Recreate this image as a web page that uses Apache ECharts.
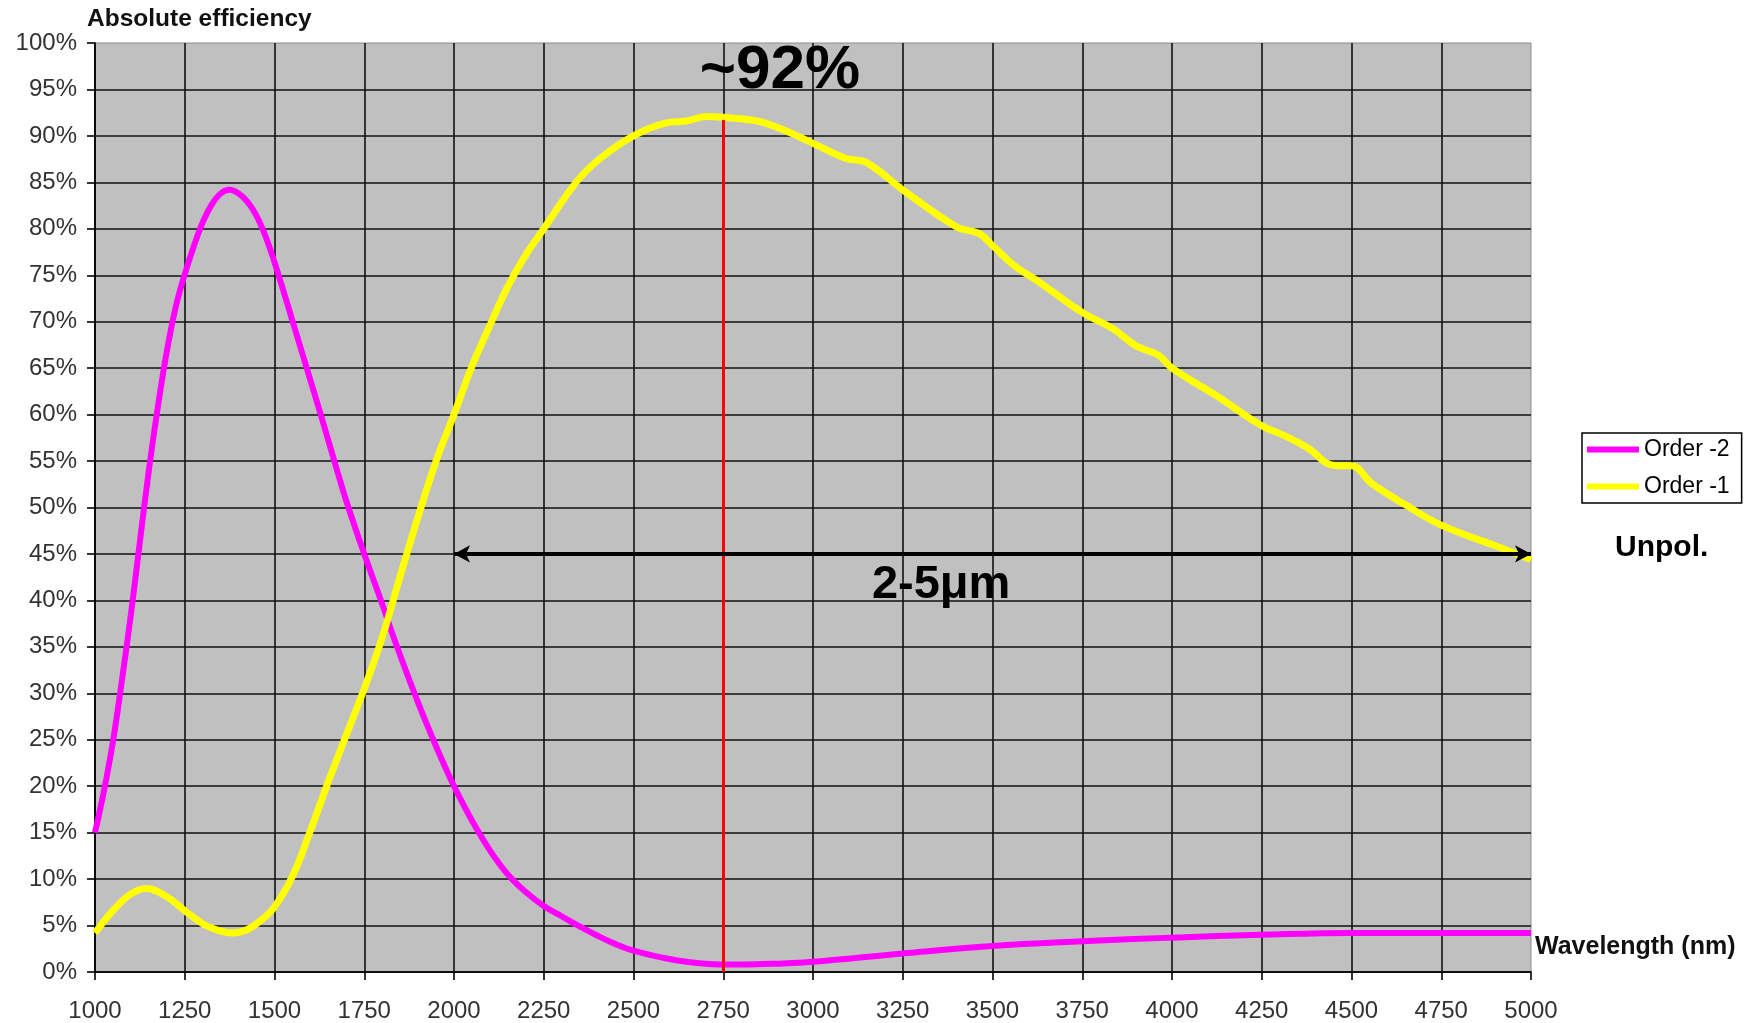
<!DOCTYPE html>
<html><head><meta charset="utf-8">
<script src="https://cdn.jsdelivr.net/npm/echarts@6/dist/echarts.min.js"></script>
<style>html,body{margin:0;padding:0;background:#fff}#c{width:1751px;height:1023px}</style>
</head><body><div id="c"></div>
<script>
// ---- data ----
const seriesNames = ['Order -2', 'Order -1'];
const order2Wl  = [1000,1025,1050,1075,1100,1125,1150,1175,1200,1225,1250,1275,1300,1325,1350,1375,1400,1425,1450,1475,1500,1525,1550,1575,1600,1625,1650,1675,1700,1725,1750,1775,1800,1825,1850,1875,1900,1925,1950,1975,2000,2050,2100,2150,2200,2250,2300,2350,2400,2450,2500,2600,2700,2800,2900,3000,3250,3500,3750,4000,4250,4500,4750,5000];
const order2Eff = [15,19.5,24.8,31.4,38.5,46.3,54,60.8,66.8,71.6,75.1,78.1,80.7,82.6,83.8,84.2,83.8,82.9,81.4,79.2,76.4,73.3,70.1,66.9,63.7,60.5,57.2,53.9,50.7,47.8,45,42.3,39.6,36.8,34.1,31.5,29,26.6,24.3,22.1,20,16.3,13.1,10.5,8.6,7.1,6,4.9,3.9,3,2.3,1.4,0.9,0.8,0.9,1.1,2,2.8,3.3,3.7,4.0,4.2,4.2,4.2];
const order1Wl  = [1000,1050,1100,1143,1200,1250,1300,1350,1384,1420,1460,1500,1550,1600,1650,1700,1750,1800,1850,1900,1950,2000,2050,2100,2150,2200,2250,2340,2405,2500,2591,2647,2705,2750,2845,2920,3000,3090,3150,3250,3400,3462,3500,3562,3625,3750,3837,3900,3962,4000,4125,4250,4310,4375,4456,4500,4556,4650,4750,4906,5000];
const order1Eff = [4.2,6.6,8.4,9,8.1,6.6,5.2,4.4,4.2,4.5,5.5,7,10.3,15.2,20.5,25.5,30.5,36,42.6,49,55,60,65.2,69.6,73.8,77.2,80,85,87.5,90,91.4,91.6,92.1,92,91.6,90.6,89.2,87.6,87.1,84.2,80.2,79.5,78.2,76,74.4,71,69.2,67.4,66.4,65,62,58.8,57.8,56.5,54.5,54.5,52.6,50.3,48.1,45.8,44.4];
const peakWl = 2750, peakEff = 91.7;
const bandStart = 2000, bandEnd = 5000, bandLevel = 45;
const annotTexts = ['~92%', '2-5μm'];
const annotWl = [2908, 3357];
const annotEff = [97.0, 41.7];
const yTitle = 'Absolute efficiency', xTitle = 'Wavelength (nm)', polText = 'Unpol.';

const FONT = '"Liberation Sans", Arial, sans-serif';
const zip = (a, b) => a.map((v, i) => [v, b[i]]);

const chart = echarts.init(document.getElementById('c'), null, {renderer: 'canvas'});
chart.setOption({
  animation: false,
  backgroundColor: '#ffffff',
  grid: {left: 95, top: 43, width: 1436, height: 929, show: true,
         backgroundColor: '#C0C0C0', borderColor: '#8c8c8c', borderWidth: 1},
  xAxis: {type: 'value', min: 1000, max: 5000, interval: 250,
    axisLine: {show: true, onZero: false, lineStyle: {color: '#000', width: 1.6}},
    axisTick: {show: true, inside: false, length: 8, lineStyle: {color: '#000', width: 1.6}},
    axisLabel: {margin: 27, fontSize: 24, color: '#333', fontFamily: FONT, formatter: v => String(v)},
    splitLine: {show: true, showMaxLine: false, lineStyle: {color: '#111', width: 1.6}}},
  yAxis: {type: 'value', min: 0, max: 100, interval: 5,
    axisLine: {show: true, lineStyle: {color: '#000', width: 1.6}},
    axisTick: {show: true, inside: false, length: 8, lineStyle: {color: '#000', width: 1.6}},
    axisLabel: {margin: 18, fontSize: 24, color: '#333', fontFamily: FONT, formatter: '{value}%'},
    splitLine: {show: true, showMaxLine: false, lineStyle: {color: '#111', width: 1.6}}},
  legend: {data: seriesNames, orient: 'vertical', left: 1582, top: 433,
    icon: 'rect', itemWidth: 52, itemHeight: 6, itemGap: 14,
    backgroundColor: '#fff', borderColor: '#000', borderWidth: 1.5, borderRadius: 0,
    padding: [5, 12, 5, 5],
    textStyle: {fontSize: 23, color: '#000', fontFamily: FONT}},
  graphic: [
    {type: 'text', left: 87, top: 7, style: {text: yTitle, font: 'bold 24.5px ' + FONT, fill: '#111'}},
    {type: 'text', left: 1535, top: 935, style: {text: xTitle, font: 'bold 25px ' + FONT, fill: '#111'}},
    {type: 'text', left: 1615, top: 533, style: {text: polText, font: 'bold 30px ' + FONT, fill: '#000'}}
  ],
  series: [
    {name: seriesNames[0], type: 'line', data: zip(order2Wl, order2Eff), smooth: 0.4,
     showSymbol: false, itemStyle: {color: '#FF00FF'}, lineStyle: {color: '#FF00FF', width: 6}},
    {name: seriesNames[1], type: 'line', data: zip(order1Wl, order1Eff), smooth: 0.4,
     showSymbol: false, itemStyle: {color: '#FFFF00'}, lineStyle: {color: '#FFFF00', width: 7},
     markLine: {silent: true, z: 6, label: {show: false}, symbol: 'none',
       data: [
         [{coord: [peakWl, 0], symbol: 'none', lineStyle: {color: '#FF0000', width: 3, type: 'solid'}},
          {coord: [peakWl, peakEff], symbol: 'none'}],
         [{coord: [bandStart, bandLevel], symbol: 'arrow', symbolSize: [13, 16],
           lineStyle: {color: '#000', width: 4, type: 'solid'}, itemStyle: {color: '#000'}},
          {coord: [bandEnd, bandLevel], symbol: 'arrow', symbolSize: [13, 16], itemStyle: {color: '#000'}}]
       ]},
     markPoint: {silent: true, symbolSize: 0,
       label: {show: true, position: 'inside', formatter: '{b}', color: '#000', fontFamily: FONT, fontWeight: 'bold'},
       data: [
         {name: annotTexts[0], coord: [annotWl[0], annotEff[0]], label: {fontSize: 62}},
         {name: annotTexts[1], coord: [annotWl[1], annotEff[1]], label: {fontSize: 47}}
       ]}}
  ]
});
</script></body></html>
